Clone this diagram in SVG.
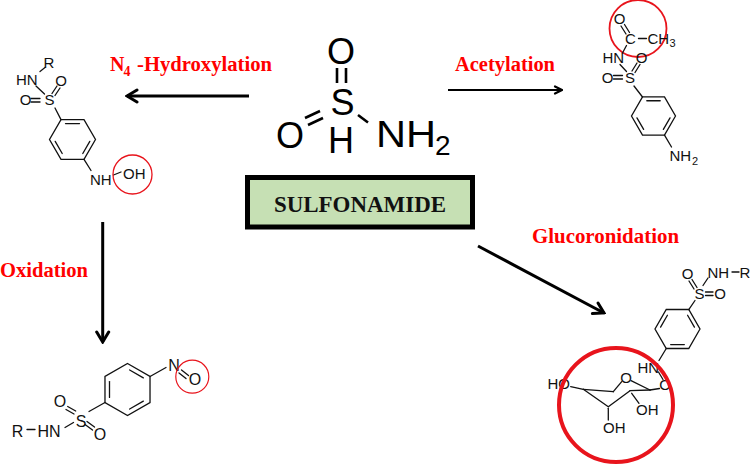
<svg xmlns="http://www.w3.org/2000/svg" width="753" height="464" viewBox="0 0 753 464">
<style>
.lbl{font-family:"Liberation Serif","Times New Roman",serif;font-weight:bold;fill:#ff0000;font-size:20px}
.at{font-family:"Liberation Sans",Arial,sans-serif;font-size:15px;fill:#111}
.ox{font-size:16px}
.big{font-family:"Liberation Sans",Arial,sans-serif;font-size:36px;fill:#000}
.bd{stroke:#111;stroke-width:1.3;fill:none;stroke-linecap:round}
.bb{stroke:#000;stroke-width:2.6;fill:none}
.hl{fill:none;stroke:#e8141c}
.ar{stroke:#000;fill:none}
</style>
<defs>
<marker id="ah" markerUnits="userSpaceOnUse" markerWidth="16" markerHeight="16" viewBox="0 0 16 16" refX="14" refY="8" orient="auto">
<path d="M4,2 L14,8 L4,14" fill="none" stroke="#000" stroke-width="3" stroke-linecap="round" stroke-linejoin="miter"/>
</marker>
<marker id="ahs" markerUnits="userSpaceOnUse" markerWidth="12" markerHeight="12" viewBox="0 0 12 12" refX="11" refY="6" orient="auto">
<path d="M4,2.5 L11,6 L4,9.5" fill="none" stroke="#000" stroke-width="2.2" stroke-linecap="round"/>
</marker>
</defs>
<rect width="753" height="464" fill="#fff"/>

<g id="sulfonamide">
<text class="big" x="341" y="63.5" text-anchor="middle">O</text>
<line class="bb" x1="337" y1="68" x2="337" y2="83"/>
<line class="bb" x1="346" y1="68" x2="346" y2="83"/>
<text class="big" x="342.5" y="115" text-anchor="middle">S</text>
<text class="big" x="290" y="147.5" text-anchor="middle">O</text>
<line class="bb" x1="305" y1="118" x2="320" y2="111"/>
<line class="bb" x1="308" y1="125" x2="323" y2="118"/>
<text class="big" x="341" y="153" text-anchor="middle">H</text>
<line class="bb" x1="358" y1="115" x2="368" y2="122.5"/>
<text class="big" x="376" y="147" textLength="60" lengthAdjust="spacingAndGlyphs">NH</text>
<text class="big" x="435" y="155" style="font-size:28px">2</text>
</g>

<g id="sulfonamide-box">
<rect x="247.5" y="177.5" width="225" height="49.5" fill="#c6e0b4" stroke="#000" stroke-width="5"/>
<text x="360" y="212" text-anchor="middle" textLength="172" lengthAdjust="spacingAndGlyphs" style="font-family:'Liberation Serif','Times New Roman',serif;font-weight:bold;font-size:22.5px;fill:#111">SULFONAMIDE</text>
</g>

<g id="hydroxylamine">
<text class="at" x="49" y="68" text-anchor="middle">R</text>
<line class="bd" x1="40" y1="71.5" x2="45" y2="67.5"/>
<text class="at" x="16" y="85">HN</text>
<text class="at" x="61" y="86" text-anchor="middle">O</text>
<line class="bd" x1="36" y1="86" x2="44.5" y2="94"/>
<line class="bd" x1="52" y1="93.5" x2="57" y2="86"/>
<line class="bd" x1="55" y1="95.5" x2="60" y2="88"/>
<text class="at" x="25.5" y="105" text-anchor="middle">O</text>
<line class="bd" x1="31" y1="98.5" x2="40" y2="98.5"/>
<line class="bd" x1="31" y1="102" x2="40" y2="102"/>
<text class="at" x="49.5" y="105" text-anchor="middle">S</text>
<line class="bd" x1="55" y1="108" x2="61" y2="119.6"/>
<polygon class="bd" points="95.5,139.5 84,159.4 61,159.4 49.5,139.5 61,119.6 84,119.6"/>
<line class="bd" x1="65.5" y1="123.6" x2="79.5" y2="123.6"/>
<line class="bd" x1="89.8" y1="141.4" x2="82.8" y2="153.5"/>
<line class="bd" x1="62.2" y1="153.5" x2="55.2" y2="141.4"/>
<line class="bd" x1="84" y1="159.4" x2="91" y2="170.5"/>
<text class="at" x="90" y="185">NH</text>
<line class="bd" x1="113.5" y1="175" x2="121" y2="172"/>
<text class="at" x="123" y="179">OH</text>
<circle class="hl" cx="132.5" cy="174.5" r="19.5" stroke-width="1.3"/>
</g>

<g id="acetyl">
<circle class="hl" cx="638" cy="28.5" r="28.5" stroke-width="1.8"/>
<text class="at" x="619.5" y="23.5" text-anchor="middle">O</text>
<line class="bd" x1="621" y1="26" x2="626" y2="34"/>
<line class="bd" x1="624.5" y1="24.5" x2="629.5" y2="32.5"/>
<text class="at" x="630.5" y="43.5" text-anchor="middle">C</text>
<line class="bd" x1="638.5" y1="38.5" x2="646.5" y2="38.5"/>
<text class="at" x="647.5" y="43.5">CH</text>
<text class="at" x="669.5" y="47" style="font-size:11px">3</text>
<line class="bd" x1="626.5" y1="45.5" x2="622.5" y2="53"/>
<text class="at" x="602.5" y="63">HN</text>
<text class="at" x="641.7" y="63" text-anchor="middle">O</text>
<line class="bd" x1="620" y1="64.5" x2="626.5" y2="71.5"/>
<line class="bd" x1="632" y1="71" x2="637" y2="63"/>
<line class="bd" x1="635" y1="72.5" x2="640" y2="64.5"/>
<text class="at" x="607.5" y="83" text-anchor="middle">O</text>
<line class="bd" x1="613.5" y1="75.5" x2="622.5" y2="75.5"/>
<line class="bd" x1="613.5" y1="79" x2="622.5" y2="79"/>
<text class="at" x="630" y="83" text-anchor="middle">S</text>
<line class="bd" x1="634" y1="86" x2="642.5" y2="97"/>
<polygon class="bd" points="675.5,116 664.5,135.05 642.5,135.05 631.5,116 642.5,96.95 664.5,96.95"/>
<line class="bd" x1="646.8" y1="100.76" x2="660.2" y2="100.76"/>
<line class="bd" x1="670.04" y1="117.83" x2="663.36" y2="129.41"/>
<line class="bd" x1="643.64" y1="129.41" x2="636.96" y2="117.83"/>
<line class="bd" x1="664.5" y1="135.05" x2="671.5" y2="147"/>
<text class="at" x="669.5" y="161">NH</text>
<text class="at" x="692" y="165" style="font-size:11px">2</text>
</g>

<g id="nitroso">
<polygon class="bd" points="127.5,363.5 150.02,376.5 150.02,402.5 127.5,415.5 104.98,402.5 104.98,376.5"/>
<line class="bd" x1="129.66" y1="369.95" x2="143.34" y2="377.85"/>
<line class="bd" x1="143.34" y1="401.15" x2="129.66" y2="409.05"/>
<line class="bd" x1="109.5" y1="397.4" x2="109.5" y2="381.6"/>
<line class="bd" x1="150.02" y1="376.5" x2="166" y2="367.5"/>
<text class="at ox" x="174" y="371" text-anchor="middle">N</text>
<line class="bd" x1="179" y1="373" x2="186" y2="378.5"/>
<line class="bd" x1="181.5" y1="370" x2="188.5" y2="375.5"/>
<text class="at ox" x="195" y="385" text-anchor="middle">O</text>
<circle class="hl" cx="192.3" cy="376.7" r="16.5" stroke-width="1.2"/>
<line class="bd" x1="104.98" y1="402.5" x2="89" y2="411.5"/>
<text class="at ox" x="81" y="426.5" text-anchor="middle">S</text>
<text class="at ox" x="60" y="406.5" text-anchor="middle">O</text>
<line class="bd" x1="66" y1="409.5" x2="74" y2="414"/>
<line class="bd" x1="67.7" y1="406.5" x2="75.7" y2="411"/>
<text class="at ox" x="100" y="440" text-anchor="middle">O</text>
<line class="bd" x1="85" y1="424.5" x2="92.5" y2="430"/>
<line class="bd" x1="87" y1="421.5" x2="94.5" y2="427"/>
<text class="at ox" x="37.5" y="436.7">HN</text>
<line class="bd" x1="65" y1="427.5" x2="73.5" y2="422.5"/>
<text class="at ox" x="17.5" y="436.7" text-anchor="middle">R</text>
<line class="bd" x1="27" y1="429.5" x2="35" y2="429.5"/>
</g>

<g id="glucuronide">
<text class="at" x="687.7" y="278.5" text-anchor="middle">O</text>
<text class="at" x="707.5" y="277.5">NH</text>
<line class="bd" x1="732" y1="272" x2="739" y2="272"/>
<text class="at" x="745" y="277.5" text-anchor="middle">R</text>
<line class="bd" x1="703" y1="285.5" x2="708" y2="278"/>
<line class="bd" x1="689" y1="281" x2="694" y2="289"/>
<line class="bd" x1="692" y1="279.5" x2="697" y2="287.5"/>
<text class="at" x="699.5" y="299" text-anchor="middle">S</text>
<line class="bd" x1="705.5" y1="292" x2="713" y2="292"/>
<line class="bd" x1="705.5" y1="295.5" x2="713" y2="295.5"/>
<text class="at" x="720" y="299" text-anchor="middle">O</text>
<line class="bd" x1="695" y1="300.5" x2="688.75" y2="309.51"/>
<polygon class="bd" points="700,329 688.75,348.49 666.25,348.49 655,329 666.25,309.51 688.75,309.51"/>
<line class="bd" x1="687.58" y1="315.28" x2="694.42" y2="327.13"/>
<line class="bd" x1="684.34" y1="344.59" x2="670.66" y2="344.59"/>
<line class="bd" x1="660.58" y1="327.13" x2="667.42" y2="315.28"/>
<line class="bd" x1="666.25" y1="348.49" x2="659" y2="360.5"/>
<text class="at" x="637.5" y="372.5">HN</text>
<line class="bd" x1="658.5" y1="372" x2="663" y2="379.5"/>
<text class="at" x="665" y="390" text-anchor="middle">O</text>
<text class="at" x="547.5" y="389">HO</text>
<line class="bd" x1="570.7" y1="386.7" x2="583.3" y2="389.3"/>
<line class="bd" x1="583.3" y1="389.3" x2="613.3" y2="391.7"/>
<line class="bd" x1="613.3" y1="391.7" x2="621.7" y2="381.7"/>
<text class="at" x="626" y="382.7" text-anchor="middle">O</text>
<line class="bd" x1="631" y1="380.7" x2="650" y2="390"/>
<line class="bd" x1="650" y1="390" x2="659.5" y2="388.5"/>
<line class="bd" x1="583.3" y1="389.3" x2="608.3" y2="406.7"/>
<line class="bd" x1="608.3" y1="406.7" x2="630" y2="390.7"/>
<line class="bd" x1="630" y1="390.7" x2="650" y2="390"/>
<line class="bd" x1="631.7" y1="393.3" x2="639" y2="403.3"/>
<line class="bd" x1="608.3" y1="408.3" x2="608.3" y2="420"/>
<text class="at" x="636" y="415">OH</text>
<text class="at" x="603" y="433.3">OH</text>
<circle class="hl" cx="616" cy="405" r="57" stroke-width="4"/>
</g>

<g id="connectors">
<line class="ar" x1="249" y1="96" x2="127" y2="96" stroke-width="3" marker-end="url(#ah)"/>
<line class="ar" x1="448" y1="90" x2="562" y2="90" stroke-width="2.2" marker-end="url(#ahs)"/>
<line class="ar" x1="102.7" y1="222" x2="102.7" y2="342" stroke-width="3" marker-end="url(#ah)"/>
<line class="ar" x1="478" y1="246" x2="604" y2="313" stroke-width="3" marker-end="url(#ah)"/>
<text class="lbl" x="110" y="71">N</text>
<text class="lbl" x="123.5" y="75.5" style="font-size:14px">4</text>
<text class="lbl" x="137" y="71" textLength="135" lengthAdjust="spacingAndGlyphs">-Hydroxylation</text>
<text class="lbl" x="455" y="71" textLength="100" lengthAdjust="spacingAndGlyphs">Acetylation</text>
<text class="lbl" x="0" y="277" textLength="88" lengthAdjust="spacingAndGlyphs">Oxidation</text>
<text class="lbl" x="532" y="243" textLength="147" lengthAdjust="spacingAndGlyphs">Glucoronidation</text>
</g>
</svg>
